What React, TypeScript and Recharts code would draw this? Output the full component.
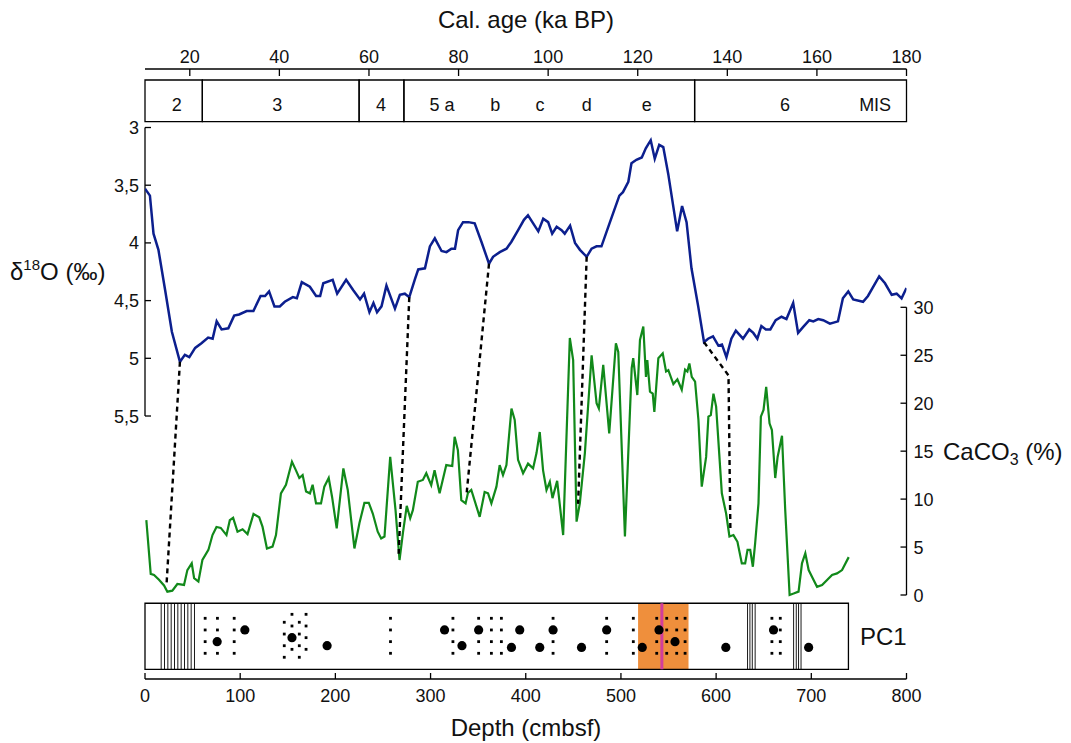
import React from 'react';
import { ComposedChart, Line, Scatter, XAxis, YAxis, ReferenceArea, ReferenceLine } from 'recharts';

// d18O record vs calendar age: [ka BP, permil]
const D18O_SERIES: [number, number][] = [
  [10.0, 3.53], [11.1, 3.59], [11.9, 3.92], [13.0, 4.06], [14.5, 4.41], [16.0, 4.77], [17.8, 5.03],
  [18.9, 4.97], [19.9, 4.99], [21.2, 4.91], [22.6, 4.87], [24.1, 4.82], [25.1, 4.83], [26.0, 4.68],
  [27.1, 4.75], [28.6, 4.74], [29.9, 4.63], [31.0, 4.62], [32.7, 4.59], [34.2, 4.59], [35.8, 4.46],
  [36.8, 4.46], [37.7, 4.42], [38.9, 4.55], [40.1, 4.55], [41.2, 4.51], [43.0, 4.47], [43.9, 4.48],
  [45.0, 4.34], [46.8, 4.38], [48.2, 4.46], [49.1, 4.46], [49.8, 4.35], [51.9, 4.32], [52.9, 4.44],
  [54.9, 4.32], [56.5, 4.41], [58.0, 4.49], [58.9, 4.44], [60.1, 4.6], [61.0, 4.52], [61.8, 4.6],
  [62.8, 4.55], [63.9, 4.37], [65.8, 4.57], [66.9, 4.45], [68.0, 4.44], [69.0, 4.47], [70.3, 4.31],
  [71.0, 4.23], [72.5, 4.22], [73.6, 4.03], [74.7, 3.96], [76.2, 4.07], [77.3, 4.08], [78.4, 4.05],
  [79.2, 4.05], [79.9, 3.89], [81.0, 3.82], [82.2, 3.82], [83.6, 3.83], [85.1, 3.99], [86.8, 4.18],
  [87.7, 4.12], [89.2, 4.08], [90.7, 4.05], [91.8, 3.99], [93.3, 3.89], [94.6, 3.8], [95.5, 3.76],
  [97.8, 3.9], [98.9, 3.79], [100.0, 3.82], [100.9, 3.92], [101.9, 3.86], [103.0, 3.89], [103.7, 3.92],
  [104.9, 3.85], [106.0, 4.0], [107.1, 4.06], [108.6, 4.12], [109.7, 4.05], [110.8, 4.03], [111.9, 4.03],
  [113.8, 3.82], [115.9, 3.59], [116.7, 3.56], [117.9, 3.47], [118.6, 3.31], [119.7, 3.28], [120.9, 3.26],
  [121.8, 3.18], [122.9, 3.11], [123.8, 3.27], [124.8, 3.15], [125.7, 3.17], [126.8, 3.4], [128.8, 3.9],
  [129.9, 3.68], [130.9, 3.82], [132.0, 4.22], [133.5, 4.55], [134.8, 4.86], [135.7, 4.83], [136.8, 4.81],
  [138.0, 4.89], [138.8, 4.88], [139.8, 4.99], [140.9, 4.83], [141.9, 4.76], [143.5, 4.83], [144.9, 4.75],
  [145.8, 4.78], [146.7, 4.83], [147.6, 4.72], [148.6, 4.75], [149.6, 4.75], [150.8, 4.67], [152.1, 4.64],
  [153.2, 4.66], [154.7, 4.52], [155.8, 4.78], [156.9, 4.73], [158.3, 4.67], [159.2, 4.68], [160.3, 4.66],
  [161.4, 4.67], [162.9, 4.7], [164.7, 4.68], [165.8, 4.48], [167.0, 4.42], [168.1, 4.49], [170.3, 4.51],
  [171.4, 4.46], [173.9, 4.29], [175.2, 4.35], [176.7, 4.45], [177.8, 4.44], [178.9, 4.48], [180.0, 4.39],
];

// CaCO3 record vs depth: [cmbsf, %]
const CACO3_SERIES: [number, number][] = [
  [1.4, 7.8], [6.0, 2.2], [9.5, 2.1], [14.7, 1.6], [20, 1.0], [23.5, 0.35], [28.7, 0.45], [34, 1.15],
  [41, 1.05], [44.5, 2.6], [49.1, 3.3], [51.6, 1.75], [56.1, 1.4], [60.3, 3.65], [66.6, 4.7], [70.9, 6.25],
  [75.1, 7.1], [79.6, 7.0], [85.6, 6.25], [89.1, 7.8], [92.6, 8.05], [97.2, 6.6], [102.5, 6.85], [107.7, 6.35],
  [114, 8.45], [120, 8.1], [123.5, 7.1], [128.1, 4.85], [134, 5.05], [137.6, 6.25], [142.8, 10.6], [148.1, 11.5],
  [154.4, 13.9], [158.6, 13.0], [162.1, 12.2], [165.6, 12.5], [169.2, 10.8], [173.3, 10.6], [176.1, 11.5],
  [179.7, 9.55], [184.9, 9.55], [188.4, 11.3], [193, 12.2], [196.5, 10.25], [201.4, 6.95], [208.4, 13.2],
  [213, 10.95], [220, 4.85], [225.3, 7.5], [230.5, 9.6], [235.1, 9.6], [239.3, 8.5], [244.5, 6.6], [248.1, 5.9],
  [251.6, 6.1], [257.6, 14.4], [263.2, 8.85], [267.4, 3.65], [271, 6.5], [275, 9.3], [278.6, 8.0], [281.4, 8.85],
  [286.6, 11.8], [291.9, 12.0], [295.5, 12.7], [300.7, 11.45], [304.2, 13.0], [309.5, 10.6], [316.5, 13.55],
  [322.8, 13.45], [325.3, 16.5], [328.7, 15.1], [332.3, 9.9], [336.8, 9.55], [339.3, 10.65], [342.8, 10.95],
  [351.6, 8.15], [356.8, 10.75], [360.4, 10.6], [363.9, 9.55], [369.2, 11.3], [372.6, 13.55], [376.1, 12.5],
  [379.7, 13.55], [385, 19.45], [388.4, 18.25], [391.9, 14.1], [397.2, 12.7], [402.4, 13.7], [407.7, 13.2],
  [411.3, 14.8], [414.7, 17.0], [418.2, 13.0], [421.8, 10.95], [425.3, 11.8], [428.1, 10.1], [433, 11.9],
  [439.3, 6.25], [446.3, 26.8], [449.8, 24.5], [453.4, 7.65], [456.8, 9.55], [462.1, 14.8], [469.2, 25.0],
  [474.4, 20.0], [476.8, 19.45], [481.4, 24.0], [487.7, 16.85], [494.7, 26.25], [497.2, 25.35], [504.2, 6.1],
  [511.3, 23.65], [512.9, 24.7], [517.2, 20.85], [520, 26.6], [523.5, 28.0], [526.3, 22.75], [527.7, 24.5],
  [530.5, 21.2], [533.4, 21.0], [535.1, 19.1], [539.3, 24.7], [543.9, 25.2], [547.4, 23.3], [549.8, 23.45],
  [555.1, 22.0], [559.3, 22.5], [563.9, 21.4], [567.4, 23.5], [569.8, 23.3], [571.9, 24.15], [574.4, 22.75],
  [577.9, 22.25], [581.4, 18.25], [584.9, 11.3], [589.5, 14.4], [591.9, 18.6], [594.4, 18.75], [597.2, 21.0],
  [600, 19.65], [606, 10.6], [610.5, 8.5], [614, 6.1], [618.2, 6.25], [622.4, 5.55], [627, 3.3], [630.5, 3.3],
  [633, 4.7], [635.8, 4.7], [638.6, 2.95], [641, 5.4], [644.5, 9.55], [647, 18.6], [649.8, 19.3], [652.6, 21.7],
  [656.1, 17.9], [658.6, 17.2], [662.1, 12.2], [664.6, 14.4], [669.2, 16.6], [672.6, 8.85], [677.2, 0],
  [681.4, 0.15], [686.6, 0.35], [690.2, 3.3], [693.7, 4.35], [697.2, 2.6], [700.7, 1.9], [706, 0.85],
  [711.3, 1.05], [721.8, 2.1], [727, 2.25], [732.3, 2.6], [739.3, 3.95],
];

const AGE_TICKS = [20, 40, 60, 80, 100, 120, 140, 160, 180];
const DEPTH_TICKS = [0, 100, 200, 300, 400, 500, 600, 700, 800];
const D18O_TICKS = [3, 3.5, 4, 4.5, 5, 5.5];
const CACO3_TICKS = [0, 5, 10, 15, 20, 25, 30];

// marine isotope stages
const MIS_BOUNDS = [10, 22.8, 57.8, 67.8, 132.7, 180];
const MIS_LABELS = ['2', '3', '4', '5 a', 'b', 'c', 'd', 'e', '6', 'MIS'];
const MIS_LABEL_AGES = [17.1, 39.5, 62.7, 76.3, 88.2, 98.2, 108.6, 122.0, 152.9, 173];

// tie points between the two records
const TIE_AGE = [17.8, 69.0, 86.8, 108.6, 134.8];
const TIE_D18O = [5.03, 4.47, 4.18, 4.12, 4.86];
const TIE_DEPTH = [22.5, 266.5, 338, 455, 615];
const TIE_CACO3 = [0.9, 4.3, 10.7, 9.5, 6.6];
const TIE_BEND: ([number, number] | null)[] = [null, null, null, null, [613, 22.9]];

// PC1 strip (depth in cmbsf, rows 1..4 from bottom)
const PC1_END = 739;
const PC1_LAYERS = [17, 20.5, 24, 27.5, 31, 34.5, 38, 41.5, 45, 48.5, 52, 633, 635.5, 638, 641, 681.4, 684.2, 686.6, 689.2];
const PC1_BAND = [518, 571];
const PC1_MARK = 543;
const PC1_SMALL: [number, number[]][] = [
  [63.2, [4, 3, 2, 1]], [76.1, [4, 3, 1]], [93.7, [4, 3, 2, 1]],
  [146.3, [3.66, 2.65, 1.65, 0.66]], [154.4, [4.34, 3.34, 1.34]], [162.1, [3.66, 2.65, 1.65, 0.66]],
  [169.2, [4.34, 3.34, 2.34, 1.34]], [257.9, [4, 3, 2, 1]], [323.5, [4, 3, 2, 1]], [350.5, [4, 2, 1]],
  [363.9, [4, 3, 2, 1]], [374.4, [4, 3, 2, 1]], [428.7, [4, 2, 1]], [485, [4, 2, 1]], [513, [4, 3, 2, 1]],
  [537.6, [4, 3, 2, 1]], [548.1, [4, 3, 2, 1]], [558.6, [4, 3, 1]], [567.4, [4, 3, 2, 1]],
  [658.6, [4, 2, 1]], [667.4, [4, 3, 2, 1]],
];
const PC1_LARGE: [number, number][] = [
  [75.8, 2], [104.9, 3], [154.4, 2.34], [191.3, 1.65], [314.7, 3], [333, 1.65], [350.5, 3], [385, 1.5],
  [393.7, 3], [414.7, 1.5], [428.7, 3], [458.6, 1.5], [485, 3], [522.4, 1.5], [540, 3], [556.8, 2],
  [610.2, 1.5], [660.3, 3], [697.2, 1.5],
];

// axis domains stretched so every panel lands where it sits in the figure
const AGE_DOMAIN = [10, 180];
const DEPTH_DOMAIN = [0, 800];
const D18O_DOMAIN = [2.493, 7.779];
const CACO3_DOMAIN = [-8.759, 54.85];
const STRIP_DOMAIN = [-1.202, 51.07];
const MIS_DOMAIN = [-13.365, 1.264];
const STRIP_Y = [-0.37, 5.29];

const BLUE = '#0c1f8e';
const GREEN = '#11891a';
const FONT = '"Liberation Sans", Arial, sans-serif';
const TICK_SIZE = 18;

const toDepth = (age: number) =>
  DEPTH_DOMAIN[0] + ((age - AGE_DOMAIN[0]) / (AGE_DOMAIN[1] - AGE_DOMAIN[0])) * (DEPTH_DOMAIN[1] - DEPTH_DOMAIN[0]);
const toCaco3 = (d: number) =>
  CACO3_DOMAIN[1] - ((d - D18O_DOMAIN[0]) / (D18O_DOMAIN[1] - D18O_DOMAIN[0])) * (CACO3_DOMAIN[1] - CACO3_DOMAIN[0]);

const d18oData = D18O_SERIES.map(([age, d18o]) => ({ age, d18o }));
const caco3Data = CACO3_SERIES.map(([depth, caco3]) => ({ depth, caco3 }));
const tieData = TIE_AGE.map((age, i) => {
  const pts = [{ depth: toDepth(age), caco3: toCaco3(TIE_D18O[i]) }];
  const bend = TIE_BEND[i];
  if (bend) pts.push({ depth: bend[0], caco3: bend[1] });
  pts.push({ depth: TIE_DEPTH[i], caco3: TIE_CACO3[i] });
  return pts;
});
const misLabelData = MIS_LABELS.map((label, i) => ({ age: MIS_LABEL_AGES[i], level: 0.4, label }));
const smallDots = PC1_SMALL.flatMap(([depth, rows]) => rows.map((row) => ({ depth, row })));
const largeDots = PC1_LARGE.map(([depth, row]) => ({ depth, row }));

const TopTick = ({ x, y, payload }: any) => (
  <g>
    <line x1={x} x2={x} y1={y} y2={y + 7} stroke="#000" strokeWidth={1.3} />
    <text x={x} y={y - 6} textAnchor="middle" fontSize={TICK_SIZE} fill="#111">{payload.value}</text>
  </g>
);
const BottomTick = ({ x, y, payload }: any) => (
  <g>
    <line x1={x} x2={x} y1={y} y2={y - 6} stroke="#000" strokeWidth={1.3} />
    <text x={x} y={y + 23} textAnchor="middle" fontSize={TICK_SIZE} fill="#111">{payload.value}</text>
  </g>
);
const LeftTick = ({ x, y, payload }: any) => (
  <g>
    <line x1={x} x2={x + 6} y1={y} y2={y} stroke="#000" strokeWidth={1.3} />
    <text x={x - 6} y={y + 6.5} textAnchor="end" fontSize={TICK_SIZE} fill="#111">
      {String(payload.value).replace('.', ',')}
    </text>
  </g>
);
const RightTick = ({ x, y, payload }: any) => (
  <g>
    <line x1={x} x2={x - 6} y1={y} y2={y} stroke="#000" strokeWidth={1.3} />
    <text x={x + 7} y={y + 6.5} textAnchor="start" fontSize={TICK_SIZE} fill="#111">{payload.value}</text>
  </g>
);

const App = () => {
  return (
    <div style={{ position: 'absolute', left: 0, top: 0, width: 1071, height: 743, background: '#fff', fontFamily: FONT }}>
      <ComposedChart width={1071} height={743} margin={{ top: 39, right: 104.5, bottom: 34, left: 85 }}>
        <XAxis xAxisId="age" dataKey="age" type="number" orientation="top" domain={AGE_DOMAIN} allowDataOverflow
          ticks={AGE_TICKS} height={30} tickSize={0} tickMargin={0} tickLine={false} tick={<TopTick />}
          axisLine={{ stroke: '#000', strokeWidth: 1.3 }} />
        <XAxis xAxisId="depth" dataKey="depth" type="number" orientation="bottom" domain={DEPTH_DOMAIN} allowDataOverflow
          ticks={DEPTH_TICKS} height={30} tickSize={0} tickMargin={0} tickLine={false} tick={<BottomTick />}
          axisLine={{ stroke: '#000', strokeWidth: 1.3 }} />
        <YAxis yAxisId="d18o" type="number" orientation="left" reversed domain={D18O_DOMAIN} allowDataOverflow
          ticks={D18O_TICKS} width={60} tickSize={0} tickMargin={0} tickLine={false} axisLine={false} tick={<LeftTick />} />
        <YAxis yAxisId="caco3" type="number" orientation="right" domain={CACO3_DOMAIN} allowDataOverflow
          ticks={CACO3_TICKS} width={60} tickSize={0} tickMargin={0} tickLine={false} axisLine={false} tick={<RightTick />} />
        <YAxis yAxisId="strip" dataKey="row" type="number" domain={STRIP_DOMAIN} allowDataOverflow hide />
        <YAxis yAxisId="mis" dataKey="level" type="number" domain={MIS_DOMAIN} allowDataOverflow hide />

        {/* axis lines limited to their value ranges */}
        <ReferenceLine xAxisId="age" yAxisId="d18o" segment={[{ x: 10, y: 3 }, { x: 10, y: 5.5 }]}
          stroke="#000" strokeWidth={1.3} ifOverflow="visible" />
        <ReferenceLine xAxisId="depth" yAxisId="caco3" segment={[{ x: 800, y: 0 }, { x: 800, y: 30 }]}
          stroke="#000" strokeWidth={1.3} ifOverflow="visible" />

        {/* MIS boxes */}
        {MIS_BOUNDS.slice(0, -1).map((a, i) => (
          <ReferenceArea key={`mis-${i}`} xAxisId="age" yAxisId="mis" x1={a} x2={MIS_BOUNDS[i + 1]} y1={0} y2={1}
            fill="#fff" fillOpacity={0} stroke="#000" strokeWidth={1.3} ifOverflow="visible" />
        ))}
        <Scatter xAxisId="age" yAxisId="mis" data={misLabelData} dataKey="level" isAnimationActive={false}
          shape={(p: any) => (
            <text x={p.cx} y={p.cy} textAnchor="middle" dominantBaseline="central" fontSize={TICK_SIZE} fill="#111">
              {p.payload.label}
            </text>
          )} />

        {/* PC1 strip */}
        <ReferenceArea xAxisId="depth" yAxisId="strip" x1={PC1_BAND[0]} x2={PC1_BAND[1]} y1={STRIP_Y[0]} y2={STRIP_Y[1]}
          fill="#ef8f3c" fillOpacity={1} stroke="none" ifOverflow="visible" />
        <ReferenceArea xAxisId="depth" yAxisId="strip" x1={0} x2={PC1_END} y1={STRIP_Y[0]} y2={STRIP_Y[1]}
          fill="#fff" fillOpacity={0} stroke="#000" strokeWidth={1.3} ifOverflow="visible" />
        {PC1_LAYERS.map((d) => (
          <ReferenceLine key={`layer-${d}`} xAxisId="depth" yAxisId="strip"
            segment={[{ x: d, y: STRIP_Y[0] }, { x: d, y: STRIP_Y[1] }]} stroke="#000" strokeWidth={0.9} ifOverflow="visible" />
        ))}
        <ReferenceLine xAxisId="depth" yAxisId="strip"
          segment={[{ x: PC1_MARK, y: STRIP_Y[0] }, { x: PC1_MARK, y: STRIP_Y[1] }]} stroke="#d23d9c" strokeWidth={3} ifOverflow="visible" />
        <Scatter xAxisId="depth" yAxisId="strip" data={smallDots} dataKey="row" isAnimationActive={false}
          shape={(p: any) => <rect x={p.cx - 1.4} y={p.cy - 1.4} width={2.8} height={2.8} fill="#000" />} />
        <Scatter xAxisId="depth" yAxisId="strip" data={largeDots} dataKey="row" isAnimationActive={false}
          shape={(p: any) => <circle cx={p.cx} cy={p.cy} r={4.6} fill="#000" />} />

        {/* records */}
        <Line xAxisId="age" yAxisId="d18o" data={d18oData} dataKey="d18o" stroke={BLUE} strokeWidth={2.5}
          dot={false} isAnimationActive={false} />
        <Line xAxisId="depth" yAxisId="caco3" data={caco3Data} dataKey="caco3" stroke={GREEN} strokeWidth={2.2}
          dot={false} isAnimationActive={false} />
        {tieData.map((pts, i) => (
          <Line key={`tie-${i}`} xAxisId="depth" yAxisId="caco3" data={pts} dataKey="caco3" stroke="#000"
            strokeWidth={2.4} strokeDasharray="5 4" dot={false} isAnimationActive={false} />
        ))}
      </ComposedChart>

      <svg width={1071} height={743} style={{ position: 'absolute', left: 0, top: 0, pointerEvents: 'none' }}
        fontFamily={FONT} fill="#111">
        <text x={526} y={28} textAnchor="middle" fontSize={24}>Cal. age (ka BP)</text>
        <text x={526} y={736} textAnchor="middle" fontSize={24}>Depth (cmbsf)</text>
        <text x={10} y={280} fontSize={24}>
          δ<tspan dy={-10} fontSize={15}>18</tspan><tspan dy={10}>O (‰)</tspan>
        </text>
        <text x={943} y={460} fontSize={24}>
          CaCO<tspan dy={5} fontSize={16}>3</tspan><tspan dy={-5}> (%)</tspan>
        </text>
        <text x={860} y={645} fontSize={24}>PC1</text>
      </svg>
    </div>
  );
};

export default App;
